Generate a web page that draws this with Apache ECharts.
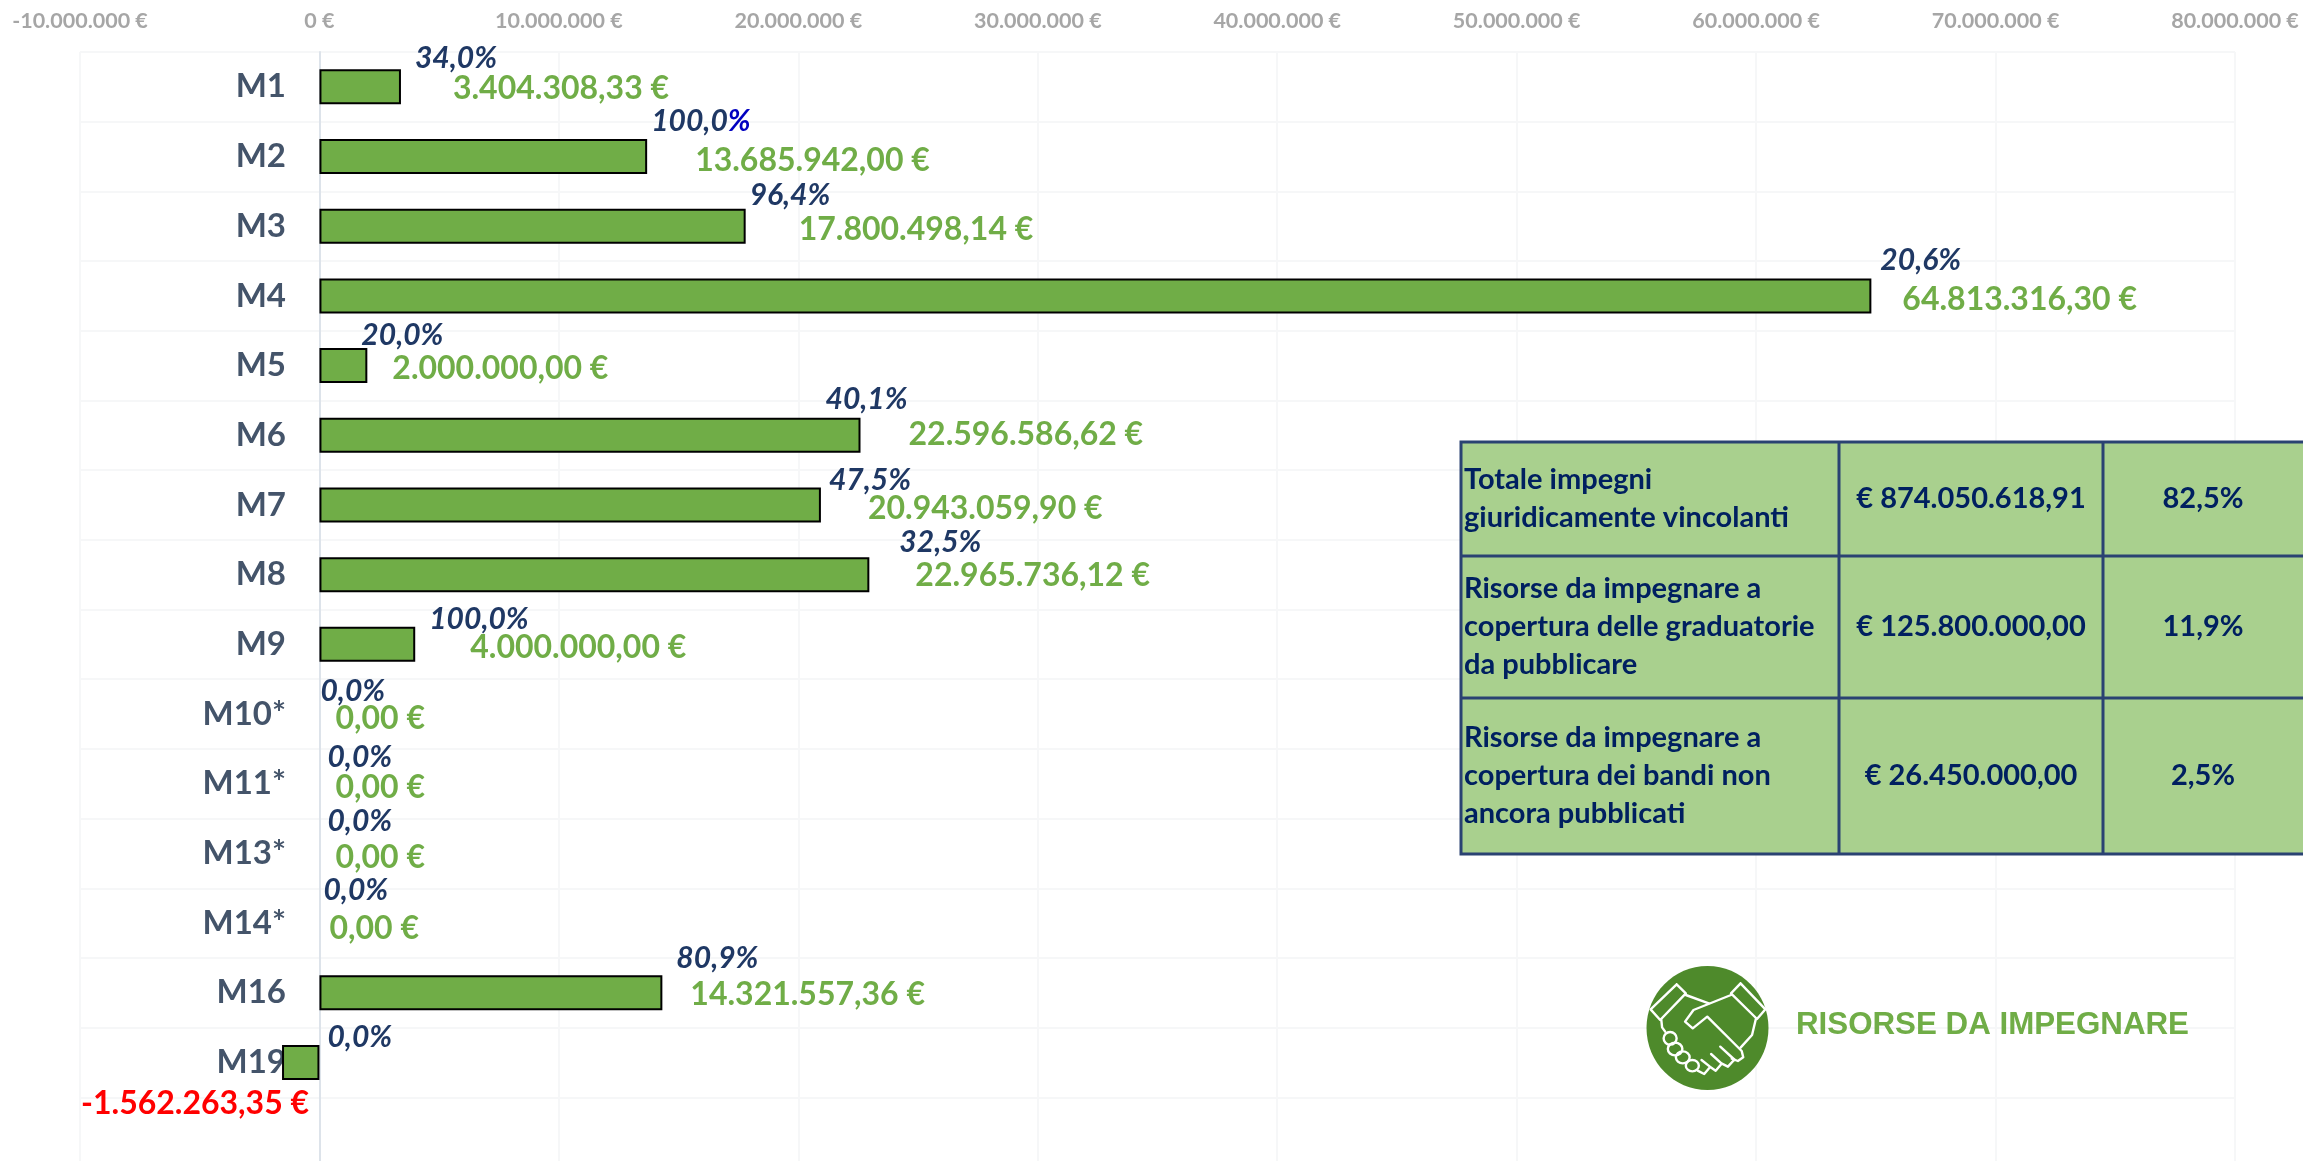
<!DOCTYPE html>
<html>
<head>
<meta charset="utf-8">
<title>Risorse da impegnare</title>
<style>
  html, body { margin: 0; padding: 0; background: #fff; }
  #chart { width: 2303px; height: 1161px; }
</style>
<script src="https://cdn.jsdelivr.net/npm/echarts@6/dist/echarts.min.js"></script>
</head>
<body>
<div id="chart"></div>
<script>
// chart data
var categories = ["M1", "M2", "M3", "M4", "M5", "M6", "M7", "M8", "M9", "M10*", "M11*", "M13*", "M14*", "M16", "M19"];
var amounts = [3404308.33, 13685942.00, 17800498.14, 64813316.30, 2000000.00, 22596586.62, 20943059.90, 22965736.12, 4000000.00, 0, 0, 0, 0, 14321557.36, -1562263.35];
var percents = [34.0, 100.0, 96.4, 20.6, 20.0, 40.1, 47.5, 32.5, 100.0, 0.0, 0.0, 0.0, 0.0, 80.9, 0.0];

var tableLabels = [
  "Totale impegni\ngiuridicamente vincolanti",
  "Risorse da impegnare a\ncopertura delle graduatorie\nda pubblicare",
  "Risorse da impegnare a\ncopertura dei bandi non\nancora pubblicati"
];
var tableAmounts = ["€ 874.050.618,91", "€ 125.800.000,00", "€ 26.450.000,00"];
var tablePercents = ["82,5%", "11,9%", "2,5%"];

// hand placed label nudges, one per row, like the original slide
var amountNudge = [[52, 2], [48, 4], [53, 3], [31, 4], [25, 3], [48, -1], [47, 4], [46, 1], [55, 3], [16, 5], [16, 4], [16, 4], [10, 6], [28, 2], [27, 41]];
var percentNudge = [[14, -29], [4, -35], [4, -31], [9, -36], [-6, -30], [-35, -36], [8, -25], [30, -32], [14, -25], [1, -23], [8, -26], [8, -32], [4, -33], [14, -34], [8, -25]];

var GREEN = "#70ad47", NAVY = "#1f3864", FONT = "Lato";

function dots(s) { return s.replace(/\B(?=(\d{3})+(?!\d))/g, "."); }
function tick(v) { return (v < 0 ? "-" : "") + dots(String(Math.abs(v))) + " €"; }
function euro(v) {
  var p = Math.abs(v).toFixed(2).split(".");
  return (v < 0 ? "-" : "") + dots(p[0]) + "," + p[1] + " €";
}
function pct(v) { return v.toFixed(1).replace(".", ","); }

var amountData = amounts.map(function (v, i) {
  return {
    value: v,
    itemStyle: { borderWidth: v === 0 ? 0 : 2 },
    label: {
      position: v < 0 ? "left" : "right",
      offset: amountNudge[i],
      color: v < 0 ? "#ff0000" : GREEN
    }
  };
});

var percentData = amounts.map(function (v, i) {
  return { value: v, label: { offset: percentNudge[i] } };
});

// table + logo are slide furniture, drawn as graphic elements
function tableGraphic() {
  var xs = [1461, 1839, 2103, 2306], ys = [442, 556, 698, 854], out = [];
  out.push({ type: "rect", z: 20, shape: { x: xs[0], y: ys[0], width: xs[3] - xs[0], height: ys[3] - ys[0] },
    style: { fill: "#a9d08e", stroke: "#2a4272", lineWidth: 3 } });
  xs.slice(1, 3).forEach(function (x) {
    out.push({ type: "line", z: 21, shape: { x1: x, y1: ys[0], x2: x, y2: ys[3] }, style: { stroke: "#2a4272", lineWidth: 3 } });
  });
  ys.slice(1, 3).forEach(function (y) {
    out.push({ type: "line", z: 21, shape: { x1: xs[0], y1: y, x2: xs[3], y2: y }, style: { stroke: "#2a4272", lineWidth: 3 } });
  });
  function cell(txt, x, y, align) {
    out.push({ type: "text", z: 22, style: {
      text: txt, x: x, y: y, align: align, textAlign: align, verticalAlign: "middle", textVerticalAlign: "middle",
      font: "bold 29px " + FONT, fill: "#002060", lineHeight: 38
    } });
  }
  for (var r = 0; r < 3; r++) {
    var cy = (ys[r] + ys[r + 1]) / 2;
    cell(tableLabels[r], xs[0] + 3, cy, "left");
    cell(tableAmounts[r], (xs[1] + xs[2]) / 2, cy, "center");
    cell(tablePercents[r], (xs[2] + 2303) / 2, cy, "center");
  }
  return out;
}

function logoGraphic() {
  function pts(list) { return list.map(function (p) { return [1620 + p[0] / 2.613, 950 + p[1] / 3]; }); }
  var white = { fill: null, stroke: "#ffffff", lineWidth: 2.4, lineJoin: "round", lineCap: "round" };
  var strokes = [
    [[148, 103], [172, 130], [105, 210], [80, 178], [148, 103]],
    [[315, 100], [380, 178], [358, 207], [290, 130], [315, 100]],
    [[172, 135], [232, 160]],
    [[290, 135], [192, 180], [170, 215], [190, 235], [228, 200], [318, 303], [322, 322], [308, 333], [292, 326]],
    [[355, 207], [345, 255], [315, 293]],
    [[108, 210], [110, 232], [118, 245]],
    [[262, 290], [300, 330]],
    [[298, 330], [282, 350], [265, 340], [238, 312]],
    [[265, 342], [250, 362], [235, 350], [213, 330]],
    [[235, 352], [220, 372], [203, 362]]
  ];
  var knuckles = [[131, 265, 17, 19], [144, 297, 19, 19], [164, 322, 18, 18], [189, 347, 17, 17]];
  var out = [{ type: "ellipse", z: 20, shape: { cx: 1707.5, cy: 1028, rx: 61, ry: 62 }, style: { fill: "#4e8a2b" } }];
  strokes.forEach(function (s) {
    out.push({ type: "polyline", z: 21, shape: { points: pts(s) }, style: white });
  });
  knuckles.forEach(function (k) {
    var c = pts([[k[0], k[1]]])[0];
    out.push({ type: "ellipse", z: 21, shape: { cx: c[0], cy: c[1], rx: k[2] / 2.613, ry: k[3] / 3 }, style: white });
  });
  out.push({ type: "text", z: 21, style: {
    text: "RISORSE DA IMPEGNARE", x: 1796, y: 1025, align: "left", textAlign: "left", verticalAlign: "middle", textVerticalAlign: "middle",
    font: "bold 31.3px 'Liberation Sans'", fill: GREEN
  } });
  return out;
}

var chart = echarts.init(document.getElementById("chart"));
chart.setOption({
  animation: false,
  backgroundColor: "#ffffff",
  // one blank row below M19 so the grid runs off the bottom of the page
  grid: { left: 80, top: 52, width: 2155, height: 1115, containLabel: false, outerBoundsMode: "none" },
  xAxis: {
    type: "value", position: "top", min: -10000000, max: 80000000, interval: 10000000,
    axisLine: { show: false }, axisTick: { show: false },
    axisLabel: { formatter: tick, color: "#a6a6a6", fontFamily: FONT, fontWeight: "bold", fontSize: 21.5, margin: 20 },
    splitLine: { lineStyle: { color: "#f6f7f8", width: 2 } }
  },
  yAxis: {
    type: "category", inverse: true, data: categories.concat([""]),
    axisLine: { onZero: true, lineStyle: { color: "#dde3ea", width: 2 } }, axisTick: { show: false },
    // labels hang off the grid edge, negative margin brings them next to the zero line
    axisLabel: { color: "#44546a", fontFamily: FONT, fontWeight: "bold", fontSize: 33, margin: -206 },
    splitLine: { show: true, lineStyle: { color: "#f6f7f8", width: 2 } }
  },
  series: [
    {
      name: "Risorse", type: "bar", barWidth: 35, data: amountData,
      itemStyle: { color: GREEN, borderColor: "#000000", borderWidth: 2 },
      label: { show: true, distance: 0, fontFamily: FONT, fontWeight: "bold", fontSize: 32,
        formatter: function (p) { return euro(p.value); } },
      z: 3
    },
    {
      name: "Percentuale", type: "bar", barWidth: 35, barGap: "-100%", data: percentData,
      itemStyle: { color: "transparent" }, silent: true,
      label: { show: true, position: "right", distance: 0,
        formatter: function (p) {
          var i = p.dataIndex, t = pct(percents[i]);
          // M2 has a bluer percent sign in the original
          return i === 1 ? "{n|" + t + "}{b|%}" : "{n|" + t + "%}";
        },
        rich: {
          n: { color: NAVY, fontFamily: FONT, fontStyle: "italic", fontWeight: "bold", fontSize: 30 },
          b: { color: "#0000c0", fontFamily: FONT, fontStyle: "italic", fontWeight: "bold", fontSize: 30 }
        }
      },
      z: 4
    }
  ],
  graphic: { elements: tableGraphic().concat(logoGraphic()) }
});
window.addEventListener("resize", function () { chart.resize(); });
</script>
</body>
</html>
